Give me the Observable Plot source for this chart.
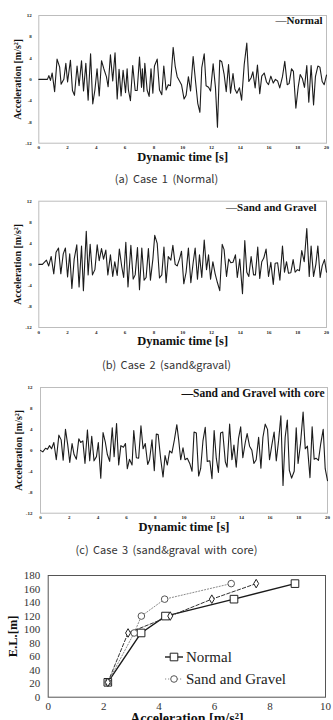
<!DOCTYPE html>
<html>
<head>
<meta charset="utf-8">
<script src="https://cdn.jsdelivr.net/npm/d3@7"></script>
<script src="https://cdn.jsdelivr.net/npm/@observablehq/plot@0.6"></script>
<style>
  html, body { margin: 0; padding: 0; background: #fff; overflow: hidden; }
  #page { position: relative; width: 333px; height: 720px; }
  .panel { position: absolute; left: 0; }
  .caption {
    position: absolute; left: 0; width: 333px; text-align: center;
    font-family: "Noto Sans CJK KR", "Noto Sans", sans-serif;
    font-size: 11px; line-height: 14px; color: #333; word-spacing: 2px;
  }
</style>
</head>
<body>
<div id="page"></div>
<script>
// ---- Time histories of acceleration (time in s, acceleration in m/s²) ----
const case1Time = [0,0.3,0.6,0.7,0.81,0.93,1.1,1.27,1.45,1.55,1.74,1.88,2.0,2.2,2.34,2.48,2.66,2.8,2.97,3.11,3.27,3.43,3.6,3.75,3.9,4.05,4.2,4.36,4.52,4.7,4.82,4.98,5.14,5.3,5.45,5.58,5.72,5.86,6.03,6.14,6.23,6.37,6.53,6.7,6.84,7.0,7.14,7.2,7.3,7.37,7.53,7.67,7.8,7.93,8.04,8.23,8.39,8.55,8.69,8.85,9.0,9.15,9.34,9.48,9.62,9.78,9.92,10.1,10.24,10.4,10.55,10.73,10.9,11.05,11.2,11.33,11.5,11.63,11.8,11.94,12.12,12.28,12.42,12.58,12.72,12.88,13.03,13.19,13.33,13.5,13.63,13.77,13.95,14.1,14.28,14.46,14.6,14.76,14.88,15.04,15.2,15.36,15.5,15.67,15.83,15.97,16.13,16.3,16.45,16.6,16.75,16.94,17.1,17.27,17.4,17.57,17.7,17.87,18.03,18.17,18.33,18.47,18.63,18.77,18.93,19.1,19.23,19.4,19.54,19.7,19.84,20];
const case1Accel = [0,0,0,0.7,-0.2,1.2,-2.3,3.8,2.3,-0.9,0,3.0,-0.5,3.6,-2.1,-3.0,2.5,-1.2,3.5,-2.2,3.0,-3.9,4.8,-4.6,-2.0,2.0,-3.1,3.5,2.0,0.5,-1.4,4.6,-0.3,5.0,-3.7,1.9,-3.1,1.7,-2.5,2.0,-2.0,-4.0,2.6,-2.1,-2.1,4.2,-1.5,2.0,-2.3,3.0,-2.0,-3.2,2.0,-2.6,2.5,3.8,-2.0,-2.9,2.5,-2.0,-1.0,-1.2,6.0,2.5,0.5,-0.3,-1.0,-3.7,-3.0,0.5,-2.2,4.3,-0.5,-4.5,-6.2,2.2,4.8,-1.2,-1.5,-2.2,2.9,-1.5,-9.0,3.6,3.3,1.0,-2.3,2.8,-2.6,1.1,-1.8,-2.6,-1.6,-3.9,2.8,6.8,-0.4,0.3,1.4,-1.6,2.7,-2.7,0.6,1.2,-0.5,-1.0,0.6,-0.7,0,-0.3,-1.6,0.5,3.4,-1.0,-0.8,2.0,1.5,-5.4,-1.5,0.9,0.1,-1.5,2.6,-4.3,2.6,-4.8,0.5,2.5,2.3,-0.4,-1.0,0.8];

const case2Time = [0,0.25,0.35,0.53,0.69,0.86,1.04,1.2,1.37,1.53,1.7,1.85,2.0,2.15,2.3,2.46,2.64,2.8,2.97,3.1,3.3,3.43,3.57,3.73,3.9,4.06,4.2,4.36,4.5,4.66,4.8,4.98,5.14,5.28,5.45,5.6,5.77,5.9,6.05,6.2,6.4,6.56,6.7,6.86,7.0,7.16,7.32,7.46,7.62,7.76,7.93,8.06,8.23,8.39,8.55,8.7,8.85,9.0,9.18,9.32,9.48,9.62,9.78,9.92,10.08,10.24,10.4,10.57,10.73,10.87,11.03,11.17,11.33,11.5,11.66,11.8,11.94,12.1,12.26,12.42,12.58,12.75,12.88,13.05,13.2,13.35,13.5,13.67,13.8,13.97,14.16,14.32,14.46,14.6,14.76,14.93,15.06,15.22,15.36,15.5,15.64,15.8,15.97,16.13,16.3,16.43,16.6,16.76,16.94,17.08,17.22,17.36,17.52,17.68,17.82,17.98,18.12,18.28,18.45,18.63,18.8,18.93,19.1,19.26,19.4,19.56,19.7,19.86,20];
const case2Accel = [0,0,0.3,0.8,-0.3,1.5,-1.8,2.3,3.1,-1.8,2.0,3.1,-2.4,2.0,-4.6,1.0,3.7,-4.3,3.5,-5.0,6.3,-2.0,3.8,-2.0,-1.0,3.7,0.7,3.0,1.0,2.7,-2.0,1.8,-2.3,0.5,-2.1,2.9,-0.5,-2.5,4.2,-4.3,3.6,-2.8,-2.0,3.2,-4.8,3.1,-3.0,-2.5,3.0,-3.0,1.0,5.5,4.0,-2.6,-2.0,3.3,-3.5,1.5,0.8,3.6,0,-0.3,1.0,2.5,-3.7,-1.5,3.1,-3.5,0.3,3.1,-2.8,1.8,-2.5,4.6,-1.0,1.8,-2.8,0.5,-1.8,-3.5,-5.0,3.8,2.8,-2.3,1.0,0.3,0.4,1.8,-2.5,1.0,-5.6,4.5,-1.5,-2.3,1.5,-2.0,-2.0,3.3,-2.7,0.5,1.2,2.9,-2.3,0.4,-3.8,0.2,0.3,-3.0,3.5,-1.5,0.5,-1.7,-1.6,0.9,-1.5,-1.0,-1.2,2.6,0.5,6.8,-2.3,3.5,-2.3,0,3.5,-2.5,-0.3,0.9,-1.5];

const case3Time = [0,0.16,0.35,0.49,0.63,0.77,0.93,1.1,1.28,1.44,1.58,1.74,1.9,2.04,2.2,2.34,2.5,2.67,2.8,2.95,3.1,3.27,3.43,3.57,3.73,3.9,4.03,4.2,4.36,4.52,4.66,4.82,5.0,5.13,5.3,5.45,5.6,5.78,5.92,6.05,6.2,6.38,6.5,6.68,6.84,7.0,7.15,7.3,7.47,7.6,7.77,7.93,8.07,8.2,8.37,8.54,8.68,8.84,9.0,9.16,9.33,9.5,9.63,9.77,9.93,10.07,10.23,10.4,10.56,10.7,10.86,11.02,11.16,11.32,11.48,11.62,11.8,11.95,12.1,12.25,12.4,12.55,12.7,12.88,13.0,13.18,13.34,13.48,13.64,13.8,13.95,14.1,14.27,14.4,14.57,14.73,14.87,15.03,15.2,15.36,15.5,15.66,15.82,15.96,16.12,16.28,16.43,16.59,16.75,16.9,17.05,17.2,17.34,17.5,17.68,17.82,17.95,18.12,18.3,18.45,18.6,18.78,18.93,19.07,19.2,19.37,19.53,19.7,19.84,20];
const case3Accel = [0,-0.3,0.4,0.2,0.9,0.3,1.5,-1.8,2.9,2.0,-1.9,4.0,1.0,-2.3,1.3,-0.8,-1.7,2.2,1.5,1.8,-2.5,3.9,-2.0,2.7,-2.0,-1.2,1.5,-5.3,3.4,1.5,-0.8,-2.1,4.3,-1.2,5.1,-2.8,0.9,0.6,1.3,-3.5,-1.7,-2.8,3.8,-1.4,-1.5,4.7,0.3,1.3,-2.7,-1.8,2.0,-3.9,3.1,3.0,-1.5,-5.1,-1.0,-2.8,-0.1,-0.5,2.0,4.9,2.0,-1.8,0.5,-1.8,-1.5,-2.5,-4.0,3.5,3.3,-4.9,-3.5,1.8,4.4,-2.1,-2.0,-5.4,3.8,-1.5,-4.2,3.3,3.5,-2.2,-3.2,5.0,-1.8,1.0,-3.2,2.3,4.5,-1.4,1.5,3.2,0.8,0,-2.5,-1.8,2.5,-3.4,2.5,5.0,4.0,-1.8,1.0,3.5,-2.0,1.8,6.6,-6.7,2.5,5.8,-3.8,-5.3,-4.0,4.3,-2.5,1.3,7.3,0.3,0.8,-5.2,4.5,-1.7,-1.5,-1.9,1.3,4.0,-3.5,-5.8];

const timeTicks = [0,2,4,6,8,10,12,14,16,18,20];
const accelTicks = [-12,-8,-4,0,4,8,12];

// ---- Elevation versus peak acceleration ----
const elevation = [22, 95, 120, 145, 168];
const accelNormal = [2.15, 3.35, 4.23, 6.7, 8.9];
const accelSandGravel = [2.15, 3.1, 3.36, 4.2, 6.6];
const accelWithCore = [2.15, 2.88, 4.4, 5.9, 7.5];
const peakAccelTicks = [0,2,4,6,8,10];
const elevationTicks = [0,20,40,60,80,100,120,140,160,180];

const page = document.getElementById("page");
const serif = "'Liberation Serif', 'Times New Roman', serif";

function place(node, top) {
  node.classList.add("panel");
  node.style.top = top + "px";
  page.appendChild(node);
}

function caption(text, top) {
  const div = document.createElement("div");
  div.className = "caption";
  div.style.top = top + "px";
  div.textContent = text;
  page.appendChild(div);
}

function timeHistory(o) {
  const data = o.time.map((t, i) => ({t, a: o.accel[i]}));
  return Plot.plot({
    width: 333, height: 164,
    marginTop: o.mt, marginBottom: o.mb, marginLeft: o.ml, marginRight: o.mr,
    style: {background: "transparent", fontFamily: serif, color: "#222"},
    x: {domain: [0, 20]},
    y: {domain: [-12, 12]},
    marks: [
      Plot.frame({stroke: "#bdbdbd", strokeWidth: 1}),
      Plot.axisX({ticks: timeTicks, tickSize: 0, tickPadding: 2.5, fontSize: 5, fontWeight: "bold", tickFormat: d => String(d), label: null}),
      Plot.axisY({ticks: accelTicks, tickSize: 0, tickPadding: o.yPad, fontSize: 5, fontWeight: "bold", tickFormat: d => String(d), label: null}),
      Plot.line(data, {x: "t", y: "a", stroke: "#1c1c1c", strokeWidth: 1.1}),
      Plot.text([o.name], {frameAnchor: "top-right", dx: o.legDx, dy: o.legDy, text: d => "—" + d,
        textAnchor: "end", lineAnchor: "middle", fontSize: o.legSize, fontWeight: "bold", fill: "#111"}),
      Plot.text(["Acceleration [m/s²]"], {frameAnchor: "left", dx: o.yTitleDx, rotate: -90,
        textAnchor: "middle", lineAnchor: "middle", fontSize: 10, fontWeight: "bold", fill: "#111"}),
      Plot.text(["Dynamic time [s]"], {frameAnchor: "bottom", dy: 13.4, lineAnchor: "middle",
        textAnchor: "middle", fontSize: 12.5, fontWeight: "bold", fill: "#111"})
    ]
  });
}

place(timeHistory({time: case1Time, accel: case1Accel, name: "Normal",
  mt: 15, mb: 21.3, ml: 38.3, mr: 7, yPad: 7, yTitleDx: -21, legDx: -4, legDy: 5, legSize: 11}), 0);
caption("(a) Case 1 (Normal)", 171);

place(timeHistory({time: case2Time, accel: case2Accel, name: "Sand and Gravel",
  mt: 14.7, mb: 23, ml: 38.3, mr: 7, yPad: 7, yTitleDx: -21, legDx: -10, legDy: 6.5, legSize: 11}), 186);
caption("(b) Case 2 (sand&graval)", 357);

place(timeHistory({time: case3Time, accel: case3Accel, name: "Sand and Gravel with core",
  mt: 15, mb: 23.3, ml: 40, mr: 6, yPad: 8, yTitleDx: -22, legDx: -3, legDy: 6, legSize: 11.5}), 372);
caption("(c) Case 3 (sand&graval with core)", 542);

// ---- Bottom panel: elevation against peak acceleration ----
const profiles = [
  {name: "Normal", accel: accelNormal, symbol: "square", r: 4.3, stroke: "#1a1a1a", width: 1.4, dash: null},
  {name: "Sand and Gravel", accel: accelSandGravel, symbol: "circle", r: 3.3, stroke: "#8a8a8a", width: 1, dash: "1.2,1.8"},
  {name: "Sand and Gravel with core", accel: accelWithCore, symbol: "diamond", r: 2.6, stroke: "#333", width: 1, dash: "3.5,2"}
];
const profileRows = profiles.flatMap(p => p.accel.map((a, i) => ({series: p.name, a, el: elevation[i]})));

const profileMarks = [Plot.frame({stroke: "#555", strokeWidth: 1})];
for (const p of profiles) {
  const rows = profileRows.filter(d => d.series === p.name);
  profileMarks.push(Plot.line(rows, {x: "a", y: "el", stroke: p.stroke, strokeWidth: p.width, strokeDasharray: p.dash}));
}
for (const p of profiles) {
  const rows = profileRows.filter(d => d.series === p.name);
  profileMarks.push(Plot.dot(rows, {x: "a", y: "el", symbol: () => p.symbol, r: p.r, fill: "white",
    stroke: p.symbol === "circle" ? "#555" : "#222", strokeWidth: 1}));
}

const bottom = Plot.plot({
  width: 333, height: 170,
  marginTop: 15, marginBottom: 33.3, marginLeft: 47.7, marginRight: 8,
  style: {background: "transparent", fontFamily: serif, color: "#333"},
  x: {domain: [0, 10]},
  y: {domain: [0, 180]},
  symbol: {type: "identity"},
  marks: [
    Plot.axisX({ticks: peakAccelTicks, tickSize: 0, tickPadding: 5, fontSize: 11, label: null}),
    Plot.axisY({ticks: elevationTicks, tickSize: 0, tickPadding: 8, fontSize: 11, label: null}),
    ...profileMarks,
    Plot.text(["E.L.[m]"], {frameAnchor: "left", dx: -35, rotate: -90, textAnchor: "middle", lineAnchor: "middle",
      fontSize: 12.5, fontWeight: "bold", fill: "#111"}),
    Plot.text(["Acceleration [m/s²]"], {frameAnchor: "bottom", dy: 21.5, textAnchor: "middle", lineAnchor: "middle",
      fontSize: 14, fontWeight: "bold", fill: "#111"})
  ]
});

// legend inside the plotting area (first two profiles)
const svg = d3.select(bottom.tagName.toLowerCase() === "svg" ? bottom : bottom.querySelector("svg"));
const legend = svg.append("g").attr("font-family", serif).attr("font-size", 15)
  .attr("fill", "#222").attr("text-anchor", "start");
profiles.slice(0, 2).forEach((p, i) => {
  const y = 97 + i * 22;
  legend.append("line").attr("x1", 165).attr("x2", 183).attr("y1", y).attr("y2", y)
    .attr("stroke", p.stroke).attr("stroke-width", p.width).attr("stroke-dasharray", p.dash);
  legend.append("path").attr("transform", `translate(174,${y})`)
    .attr("d", d3.symbol(p.symbol === "square" ? d3.symbolSquare : d3.symbolCircle, Math.PI * p.r * p.r)())
    .attr("fill", "white").attr("stroke", p.symbol === "circle" ? "#555" : "#222");
  legend.append("text").attr("x", 186).attr("y", y).attr("dy", "0.35em").text(p.name);
});

place(bottom, 560);
</script>
</body>
</html>
